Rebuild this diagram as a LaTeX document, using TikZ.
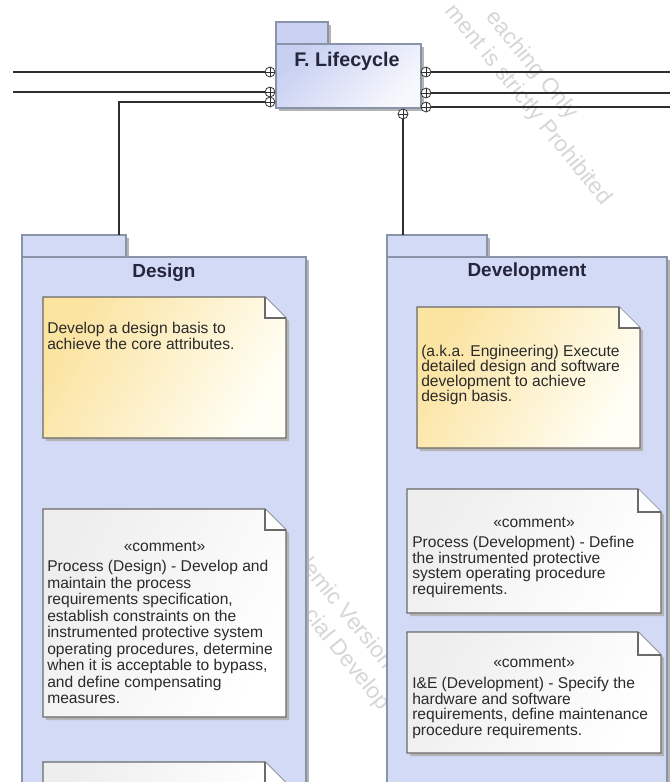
\documentclass[tikz,border=0pt]{standalone}
\usepackage{fontspec}
\setmainfont{Liberation Sans}
\usetikzlibrary{calc}

\definecolor{pkgfill}{HTML}{D3DAF6}
\definecolor{pkgline}{HTML}{8A94A8}
\definecolor{lifeA}{HTML}{C8D0F2}
\definecolor{lifeB}{HTML}{F7F8FD}
\definecolor{noteA}{HTML}{FBE3A0}
\definecolor{noteB}{HTML}{FFFFF6}
\definecolor{cmtA}{HTML}{EEEEEE}
\definecolor{cmtB}{HTML}{FFFFFF}
\definecolor{noteline}{HTML}{6A6A6A}
\definecolor{wire}{HTML}{2E2E2E}
\definecolor{titleink}{HTML}{25253C}
\definecolor{bodyink}{HTML}{2A2A2A}
\definecolor{shadowgray}{HTML}{B4B4B4}
\definecolor{wmink}{HTML}{D6D6D6}

\tikzset{
  pkg/.style={fill=pkgfill, draw=pkgline, line width=0.9pt},
  wirestyle/.style={draw=wire, line width=1.1pt},
  port/.style={circle, draw=wire, fill=white, line width=0.6pt,
    minimum size=7.4pt, inner sep=0pt,
    path picture={\draw[wire, line width=0.6pt]
      (path picture bounding box.north) -- (path picture bounding box.south)
      (path picture bounding box.west) -- (path picture bounding box.east);}},
  pkgtitle/.style={font=\bfseries\fontsize{14.2}{16}\selectfont, text=titleink, inner sep=0pt},
  body/.style={font=\fontsize{11.7}{11.7}\selectfont, text=bodyink, align=left,
    inner sep=0pt, anchor=north west},
  stereo/.style={font=\fontsize{11.7}{11.7}\selectfont, text=bodyink, inner sep=0pt},
  wm/.style={font=\fontsize{16.9}{20}\selectfont, text=wmink, inner sep=0pt,
    anchor=base west, rotate=-51},
  yellownote/.style={left color=noteA, right color=noteB, shading angle=60},
  greynote/.style={left color=cmtA, right color=cmtB, shading angle=60},
}

% note with folded corner: x1, y1, x2, y2, fold size, fill style
\newcommand{\umlnote}[6]{%
  \fill[shadowgray] ({#1+3},{#2+3}) -- ({#3-#5+3},{#2+3}) -- ({#3+3},{#2+#5+3})
    -- ({#3+3},{#4+3}) -- ({#1+3},{#4+3}) -- cycle;
  \path[#6, draw=noteline, line width=1pt] (#1,#2) -- ({#3-#5},#2) -- (#3,{#2+#5})
    -- (#3,#4) -- (#1,#4) -- cycle;
  \draw[noteline, line width=1pt, fill=white] ({#3-#5},#2) -- ({#3-#5},{#2+#5}) -- (#3,{#2+#5});
}

% package with tab: x1, y1 (tab top), tab right x, tab bottom y, x2, y2
\newcommand{\umlpackage}[6]{%
  \fill[shadowgray] ({#1+3},{#4+3}) rectangle ({#5+3},{#6+3});
  \fill[shadowgray] ({#1+3},{#2+3}) rectangle ({#3+3},{#4+3});
  \path[pkg] (#1,#2) rectangle (#3,#4);
  \path[pkg] (#1,#4) rectangle (#5,#6);
}

\begin{document}
\begin{tikzpicture}[x=0.75pt, y=-0.75pt]
  \useasboundingbox (0,0) rectangle (670,782);
  \clip (0,0) rectangle (670,782);
  \fill[white] (0,0) rectangle (670,782);

  % watermark lettering, lying under the packages
  \node[wm] (wmTopA) at (485.6,17.7) {eaching Only};
  \node[wm] (wmTopB) at (444.5,11.5) {ment is strictly Prohibited};
  \node[wm] (wmLowA) at (294.9,559.7) {demic Version};
  \node[wm] (wmLowB) at (303,615.5) {cial Develop};

  % F. Lifecycle package
  \fill[shadowgray] (279,25) rectangle (331,47);
  \fill[shadowgray] (279,47) rectangle (424,111);
  \path[fill=lifeA!85!pkgfill, draw=pkgline, line width=0.9pt] (276,22) rectangle (328,44);
  \path[left color=lifeA, right color=lifeB, shading angle=45, draw=pkgline, line width=0.9pt]
    (276,44) rectangle (421,108);
  \node[pkgtitle, font=\bfseries\fontsize{14.8}{16}\selectfont] (lifeTitle) at (347,61) {F. Lifecycle};

  % Design package
  \umlpackage{22}{235}{126}{257}{306}{800}
  \node[pkgtitle] (designTitle) at (164,273) {Design};
  \coordinate (designTop) at (119,235);

  % Development package
  \umlpackage{387}{235}{487}{257}{667}{800}
  \node[pkgtitle] (devTitle) at (527,272) {Development};
  \coordinate (devTop) at (403,235);

  % notes inside Design
  \umlnote{43}{297}{286}{438}{21}{yellownote}
  \node[body] (designNote) at (47,322)
    {Develop a design basis to\\achieve the core attributes.};
  \umlnote{43}{509}{286}{717}{21}{greynote}
  \node[stereo] (designStereo) at (164.5,547) {«comment»};
  \node[body, font=\fontsize{11.7}{12.4}\selectfont] (designComment) at (47,560)
    {Process (Design) - Develop and\\maintain the process\\requirements specification,\\establish constraints on the\\instrumented protective system\\operating procedures, determine\\when it is acceptable to bypass,\\and define compensating\\measures.};
  \umlnote{43}{762}{286}{820}{21}{greynote}

  % notes inside Development
  \umlnote{417}{307}{640}{448}{21}{yellownote}
  \node[body, font=\fontsize{11.7}{11.2}\selectfont] (devNote) at (421,345)
    {(a.k.a. Engineering) Execute\\detailed design and software\\development to achieve\\design basis.};
  \umlnote{407}{489}{661}{613}{23}{greynote}
  \node[stereo] (devStereoA) at (534,523) {«comment»};
  \node[body] (devCommentA) at (412,536)
    {Process (Development) - Define\\the instrumented protective\\system operating procedure\\requirements.};
  \umlnote{407}{632}{661}{753}{23}{greynote}
  \node[stereo] (devStereoB) at (534,663) {«comment»};
  \node[body] (devCommentB) at (412,677)
    {I\&E (Development) - Specify the\\hardware and software\\requirements, define maintenance\\procedure requirements.};

  % ports on the Lifecycle package
  \node[port] (pL1) at (270,72) {};
  \node[port] (pL2) at (270,92) {};
  \node[port] (pL3) at (270,102) {};
  \node[port] (pR1) at (426,72) {};
  \node[port] (pR2) at (426,93) {};
  \node[port] (pR3) at (426,107) {};
  \node[port] (pB) at (403,114) {};

  % connectors
  \coordinate (inA) at (13,72);
  \coordinate (inB) at (13,92);
  \coordinate (outA) at (672,72);
  \coordinate (outB) at (672,93);
  \coordinate (outC) at (672,107);
  \draw[wirestyle] (inA) -- (pL1);
  \draw[wirestyle] (inB) -- (pL2);
  \draw[wirestyle] (designTop) |- (pL3);
  \draw[wirestyle] (pR1) -- (outA);
  \draw[wirestyle] (pR2) -- (outB);
  \draw[wirestyle] (pR3) -- (outC);
  \draw[wirestyle] (pB) -- (devTop);
\end{tikzpicture}
\end{document}
